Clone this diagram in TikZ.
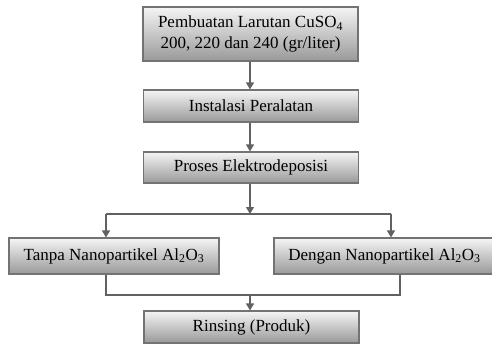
\documentclass[tikz,border=0pt]{standalone}
\usepackage{fontspec}
\setmainfont{Liberation Serif}
\usetikzlibrary{arrows.meta}
\begin{document}
\begin{tikzpicture}[x=1pt,y=-1pt,
  boxstyle/.style={draw=black!55, line width=1.2pt, top color=black!4, bottom color=black!40,
    inner sep=0pt, align=center, font=\fontsize{17}{21}\selectfont, text=black},
  conn/.style={draw=black!62, line width=1.3pt},
  arr/.style={conn, -{Triangle[width=8pt,length=7pt]}}]
\useasboundingbox (0,0) rectangle (492,345);
\fill[white] (0,0) rectangle (492,345);
\node[boxstyle, minimum width=215pt, minimum height=54pt] (b1) at (250.5,34) {Pembuatan Larutan CuSO\textsubscript{4}\\200, 220 dan 240 (gr/liter)};
\node[boxstyle, minimum width=215pt, minimum height=32pt] (b2) at (251,106) {Instalasi Peralatan};
\node[boxstyle, minimum width=215pt, minimum height=31pt] (b3) at (251,167.5) {Proses Elektrodeposisi};
\node[boxstyle, minimum width=210pt, minimum height=36pt] (b4) at (114,256) {Tanpa Nanopartikel Al\textsubscript{2}O\textsubscript{3}};
\node[boxstyle, minimum width=221pt, minimum height=36pt] (b5) at (384.5,256) {Dengan Nanopartikel Al\textsubscript{2}O\textsubscript{3}};
\node[boxstyle, minimum width=215pt, minimum height=32pt] (b6) at (251.5,327) {Rinsing (Produk)};
\coordinate (split) at (250,214);
\coordinate (merge) at (250,295);
\draw[arr] (b1.south -| split) -- (b2.north -| split);
\draw[arr] (b2.south -| split) -- (b3.north -| split);
\draw[arr] (b3.south -| split) -- (split);
\draw[conn] (split -| 106,0) -- (split -| 391,0);
\draw[arr] (split -| 106,0) -- (b4.north -| 106,0);
\draw[arr] (split -| 391,0) -- (b5.north -| 391,0);
\draw[conn] (b4.south -| 106,0) |- (merge) -| (b5.south -| 400,0);
\draw[arr] (merge) -- (b6.north -| merge);
\end{tikzpicture}
\end{document}
